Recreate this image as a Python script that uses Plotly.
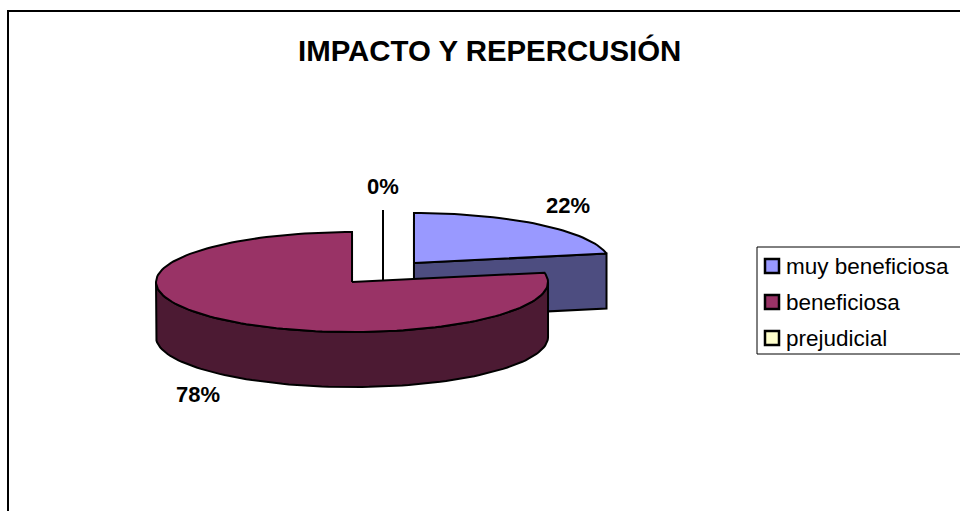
import numpy as np
import plotly.graph_objects as go

# ---- data ----
labels = ["muy beneficiosa", "beneficiosa", "prejudicial"]
values = [22, 78, 0]
pct_text = ["22%", "78%", "0%"]
top_colors = ["#9999FF", "#993366", "#FFFFCC"]
side_colors = ["#4D4D80", "#4C1A33", "#80806A"]
title_text = "IMPACTO Y REPERCUSIÓN"

# ---- geometry (pixel-like axis units) ----
W, H = 960, 511
CX, CY = 383, 272.5
RX, RY = 196, 50
DEPTH = 55
EXPLODE = 0.248
FONT = "Liberation Sans, Arial, sans-serif"

fig = go.Figure()


def pt(cx, cy, ang, r=1.0, dz=0.0):
    a = np.radians(ang)
    return cx + r * RX * np.sin(a), cy - r * RY * np.cos(a) + dz


def arc(cx, cy, a0, a1, dz=0.0, n=None):
    if n is None:
        n = max(2, int(abs(a1 - a0) / 2) + 2)
    angs = np.linspace(a0, a1, n)
    xs, ys = pt(cx, cy, angs, 1.0, dz)
    return list(xs), list(ys)


def poly(xs, ys, fill):
    fig.add_trace(go.Scatter(
        x=xs, y=ys, mode="lines", fill="toself", fillcolor=fill,
        line=dict(color="black", width=2), hoverinfo="skip", showlegend=False))


total = float(sum(values))
slices = []
start = 0.0
for i, v in enumerate(values):
    sweep = 360.0 * v / total
    a0, a1 = start, start + sweep
    mid = (a0 + a1) / 2
    ox, oy = pt(0, 0, mid, EXPLODE)
    slices.append(dict(i=i, a0=a0, a1=a1, mid=mid, cx=CX + ox, cy=CY + oy))
    start = a1

# back to front
order = sorted(slices, key=lambda s: -np.cos(np.radians(s["mid"])))
for s in order:
    i, a0, a1, cx, cy = s["i"], s["a0"], s["a1"], s["cx"], s["cy"]
    # radial side faces
    for ang, visible in ((a0, np.sin(np.radians(a0)) <= 1e-9),
                         (a1, np.sin(np.radians(a1)) >= -1e-9)):
        if visible:
            ex, ey = pt(cx, cy, ang)
            poly([cx, ex, ex, cx, cx], [cy, ey, ey + DEPTH, cy + DEPTH, cy], side_colors[i])
    # outer wall (front half only)
    w0, w1 = max(a0, 90.0), min(a1, 270.0)
    if w1 > w0:
        tx, ty = arc(cx, cy, w0, w1)
        bx, by = arc(cx, cy, w1, w0, DEPTH)
        poly(tx + bx + [tx[0]], ty + by + [ty[0]], side_colors[i])
    # top face
    tx, ty = arc(cx, cy, a0, a1)
    poly([cx] + tx + [cx], [cy] + ty + [cy], top_colors[i])

annotations = []
for s in slices:
    m = s["mid"]
    ex, ey = pt(s["cx"], s["cy"], m)
    if np.cos(np.radians(m)) < 0:
        ey += DEPTH
    lx = ex + 46 * np.sin(np.radians(m))
    ly = ey - 24 * np.cos(np.radians(m))
    annotations.append(dict(x=lx, y=ly, xref="x", yref="y", text="<b>%s</b>" % pct_text[s["i"]],
                            showarrow=False, xanchor="center", yanchor="middle",
                            font=dict(family=FONT, size=22, color="black")))

# title
annotations.append(dict(x=489, y=50, xref="x", yref="y", text="<b>%s</b>" % title_text,
                        showarrow=False, xanchor="center", yanchor="middle",
                        font=dict(family=FONT, size=29.4, color="black")))

# legend (drawn box)
LEG_X, LEG_Y0, LEG_DY = 772, 266, 36
fig.add_trace(go.Scatter(
    x=[LEG_X] * len(labels), y=[LEG_Y0 + k * LEG_DY for k in range(len(labels))],
    mode="markers", marker=dict(symbol="square", size=14, color=top_colors,
                                line=dict(color="black", width=2.5)),
    hoverinfo="skip", showlegend=False))
for k, lab in enumerate(labels):
    annotations.append(dict(x=LEG_X + 12, y=LEG_Y0 + k * LEG_DY, xref="x", yref="y", text=lab,
                            showarrow=False, xanchor="left", yanchor="middle",
                            font=dict(family=FONT, size=22.5, color="black")))

shapes = [
    dict(type="rect", xref="x", yref="y", x0=8, y0=11, x1=990, y1=540,
         line=dict(color="black", width=2), layer="below"),
    dict(type="rect", xref="x", yref="y", x0=757, y0=247, x1=990, y1=354,
         line=dict(color="black", width=1), layer="below"),
]

fig.update_layout(
    width=W, height=H, margin=dict(l=0, r=0, t=0, b=0),
    paper_bgcolor="white", plot_bgcolor="white",
    xaxis=dict(range=[0, W], visible=False, fixedrange=True),
    yaxis=dict(range=[H, 0], visible=False, fixedrange=True),
    annotations=annotations, shapes=shapes, showlegend=False, hovermode=False,
)

fig.write_html("out.html", config={"displayModeBar": False},
               post_script="document.body.style.margin='0';document.body.style.overflow='hidden';")
